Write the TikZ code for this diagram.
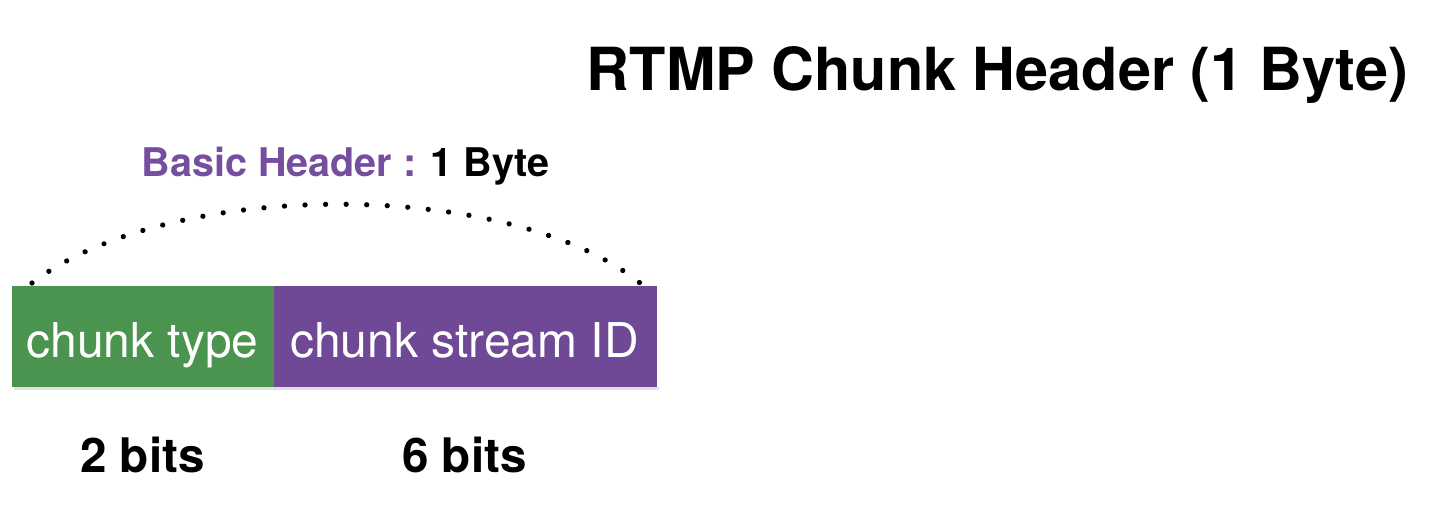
\documentclass[tikz,border=0pt]{standalone}
\usepackage{fontspec}
\usetikzlibrary{decorations.markings}
\setmainfont{TeX Gyre Heros}
\definecolor{cgreen}{RGB}{74,148,79}
\definecolor{cpurple}{RGB}{111,72,150}
\definecolor{tpurple}{RGB}{118,78,160}
\begin{document}
\begin{tikzpicture}[x=0.02cm,y=-0.02cm,
  field/.style={inner sep=0pt, minimum height=2.02cm},
  fieldtext/.style={anchor=base, text=white, inner sep=0pt, font=\fontsize{27.3}{30}\selectfont},
  bitstext/.style={anchor=base, inner sep=0pt, font=\fontsize{27.1}{30}\selectfont\bfseries},
  dotarc/.style={decoration={markings, mark=between positions 0 and 1 step 0.0322 with {\fill[black] (0,0) circle (1.5pt);}}, decorate}]
\useasboundingbox (0,0) rectangle (1434,518);
% shadow
\fill[black!12] (14,387) rectangle (659,390);
\node[field, fill=cgreen, minimum width=5.24cm] (ct) at (143,336.5) {};
\node[field, fill=cpurple, minimum width=7.66cm] (cs) at (465.5,336.5) {};
\node[fieldtext] (ctt) at (142.5,357) {chunk type};
\node[fieldtext] (cst) at (464.5,357) {chunk stream ID};
\node[bitstext] (b2) at (142.5,472) {2 bits};
\node[bitstext] (b6) at (464.5,472) {6 bits};
\node[anchor=base, inner sep=0pt, font=\fontsize{22.5}{25}\selectfont\bfseries] (bh) at (345.5,176) {\textcolor{tpurple}{Basic Header :} 1 Byte};
\node[anchor=base, inner sep=0pt, font=\fontsize{33.8}{38}\selectfont\bfseries] (title) at (997.5,90) {RTMP Chunk Header (1 Byte)};
\coordinate (al) at (32,283);
\coordinate (ar) at (640,283);
\draw[dotarc] (al) .. controls (170,178) and (510,178) .. (ar);
\end{tikzpicture}
\end{document}
